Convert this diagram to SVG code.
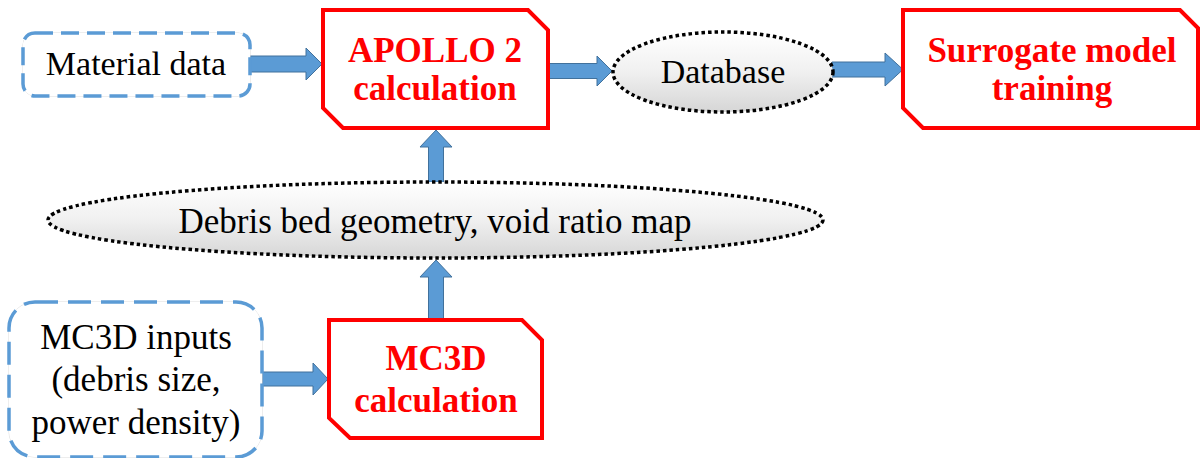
<svg xmlns="http://www.w3.org/2000/svg" width="1200" height="458" viewBox="0 0 1200 458">
<defs>
<linearGradient id="g" x1="0" y1="0" x2="0" y2="1">
<stop offset="0" stop-color="#ffffff"/>
<stop offset="0.5" stop-color="#f0f0f0"/>
<stop offset="1" stop-color="#d6d6d6"/>
</linearGradient>
<style>
.in{fill:#fff;stroke:#5B9BD5;stroke-width:3.5;stroke-dasharray:18 8}
.inb{fill:#fff;stroke:#dcdcdc;stroke-width:1}
.calc{fill:#fff;stroke:#FF0000;stroke-width:4;stroke-linejoin:miter}
.ell{fill:url(#g);stroke:#000;stroke-width:3.5;stroke-dasharray:3.5 3}
.arr{fill:#5B9BD5;stroke:#41719C;stroke-width:1}
.t{font-family:"Liberation Serif","Times New Roman",serif;font-size:34px;fill:#000;text-anchor:middle}
.r{font-family:"Liberation Serif","Times New Roman",serif;font-size:35px;font-weight:bold;fill:#FF0000;text-anchor:middle}
</style>
</defs>
<rect width="1200" height="458" fill="#fff"/>
<g id="connectors">
<polygon class="arr" points="250,56 306,56 306,48 322,64 306,80 306,72 250,72"/>
<polygon class="arr" points="549,63.5 597,63.5 597,56 612,71 597,86 597,78.5 549,78.5"/>
<polygon class="arr" points="832,62 885,62 885,53 903,69.5 885,86 885,77 832,77"/>
<polygon class="arr" points="262,372 313,372 313,363 328,379 313,395 313,386 262,386"/>
<polygon class="arr" points="428.5,320 428.5,277 420,277 436,260 452,277 443.5,277 443.5,320"/>
<polygon class="arr" points="428.5,182 428.5,147 420,147 436,130 452,147 443.5,147 443.5,182"/>
</g>
<g id="material-data">
<rect class="inb" x="23" y="33" width="227" height="63" rx="12"/>
<rect class="in" x="23" y="33" width="227" height="63" rx="12"/>
<text class="t" x="136" y="75">Material data</text>
</g>
<g id="apollo">
<polygon class="calc" points="323,10 528,10 548,30 548,128 343,128 323,108"/>
<text class="r" x="435" y="62">APOLLO 2</text>
<text class="r" x="435" y="100">calculation</text>
</g>
<g id="database">
<ellipse class="ell" cx="723" cy="72" rx="110" ry="40"/>
<text class="t" x="723" y="83">Database</text>
</g>
<g id="surrogate">
<polygon class="calc" points="903,10 1180,10 1198,28 1198,128 923,128 903,108"/>
<text class="r" x="1052" y="62">Surrogate model</text>
<text class="r" x="1052" y="100">training</text>
</g>
<g id="debris-bed">
<ellipse class="ell" cx="435.5" cy="220" rx="387.5" ry="38" stroke-width="3" stroke-dasharray="3 3"/>
<text class="t" x="435" y="233" style="font-size:35px">Debris bed geometry, void ratio map</text>
</g>
<g id="mc3d-inputs">
<rect class="inb" x="9" y="302" width="253" height="155" rx="26"/>
<rect class="in" x="9" y="302" width="253" height="155" rx="26" style="stroke-dasharray:23 10"/>
<text class="t" x="136" y="348.5" style="font-size:35px">MC3D inputs</text>
<text class="t" x="136" y="391" style="font-size:35px">(debris size,</text>
<text class="t" x="136" y="433.5" style="font-size:35px">power density)</text>
</g>
<g id="mc3d-calc">
<polygon class="calc" points="329,320 522,320 542,340 542,438 350,438 329,418"/>
<text class="r" x="436" y="370">MC3D</text>
<text class="r" x="436" y="412">calculation</text>
</g>
</svg>
